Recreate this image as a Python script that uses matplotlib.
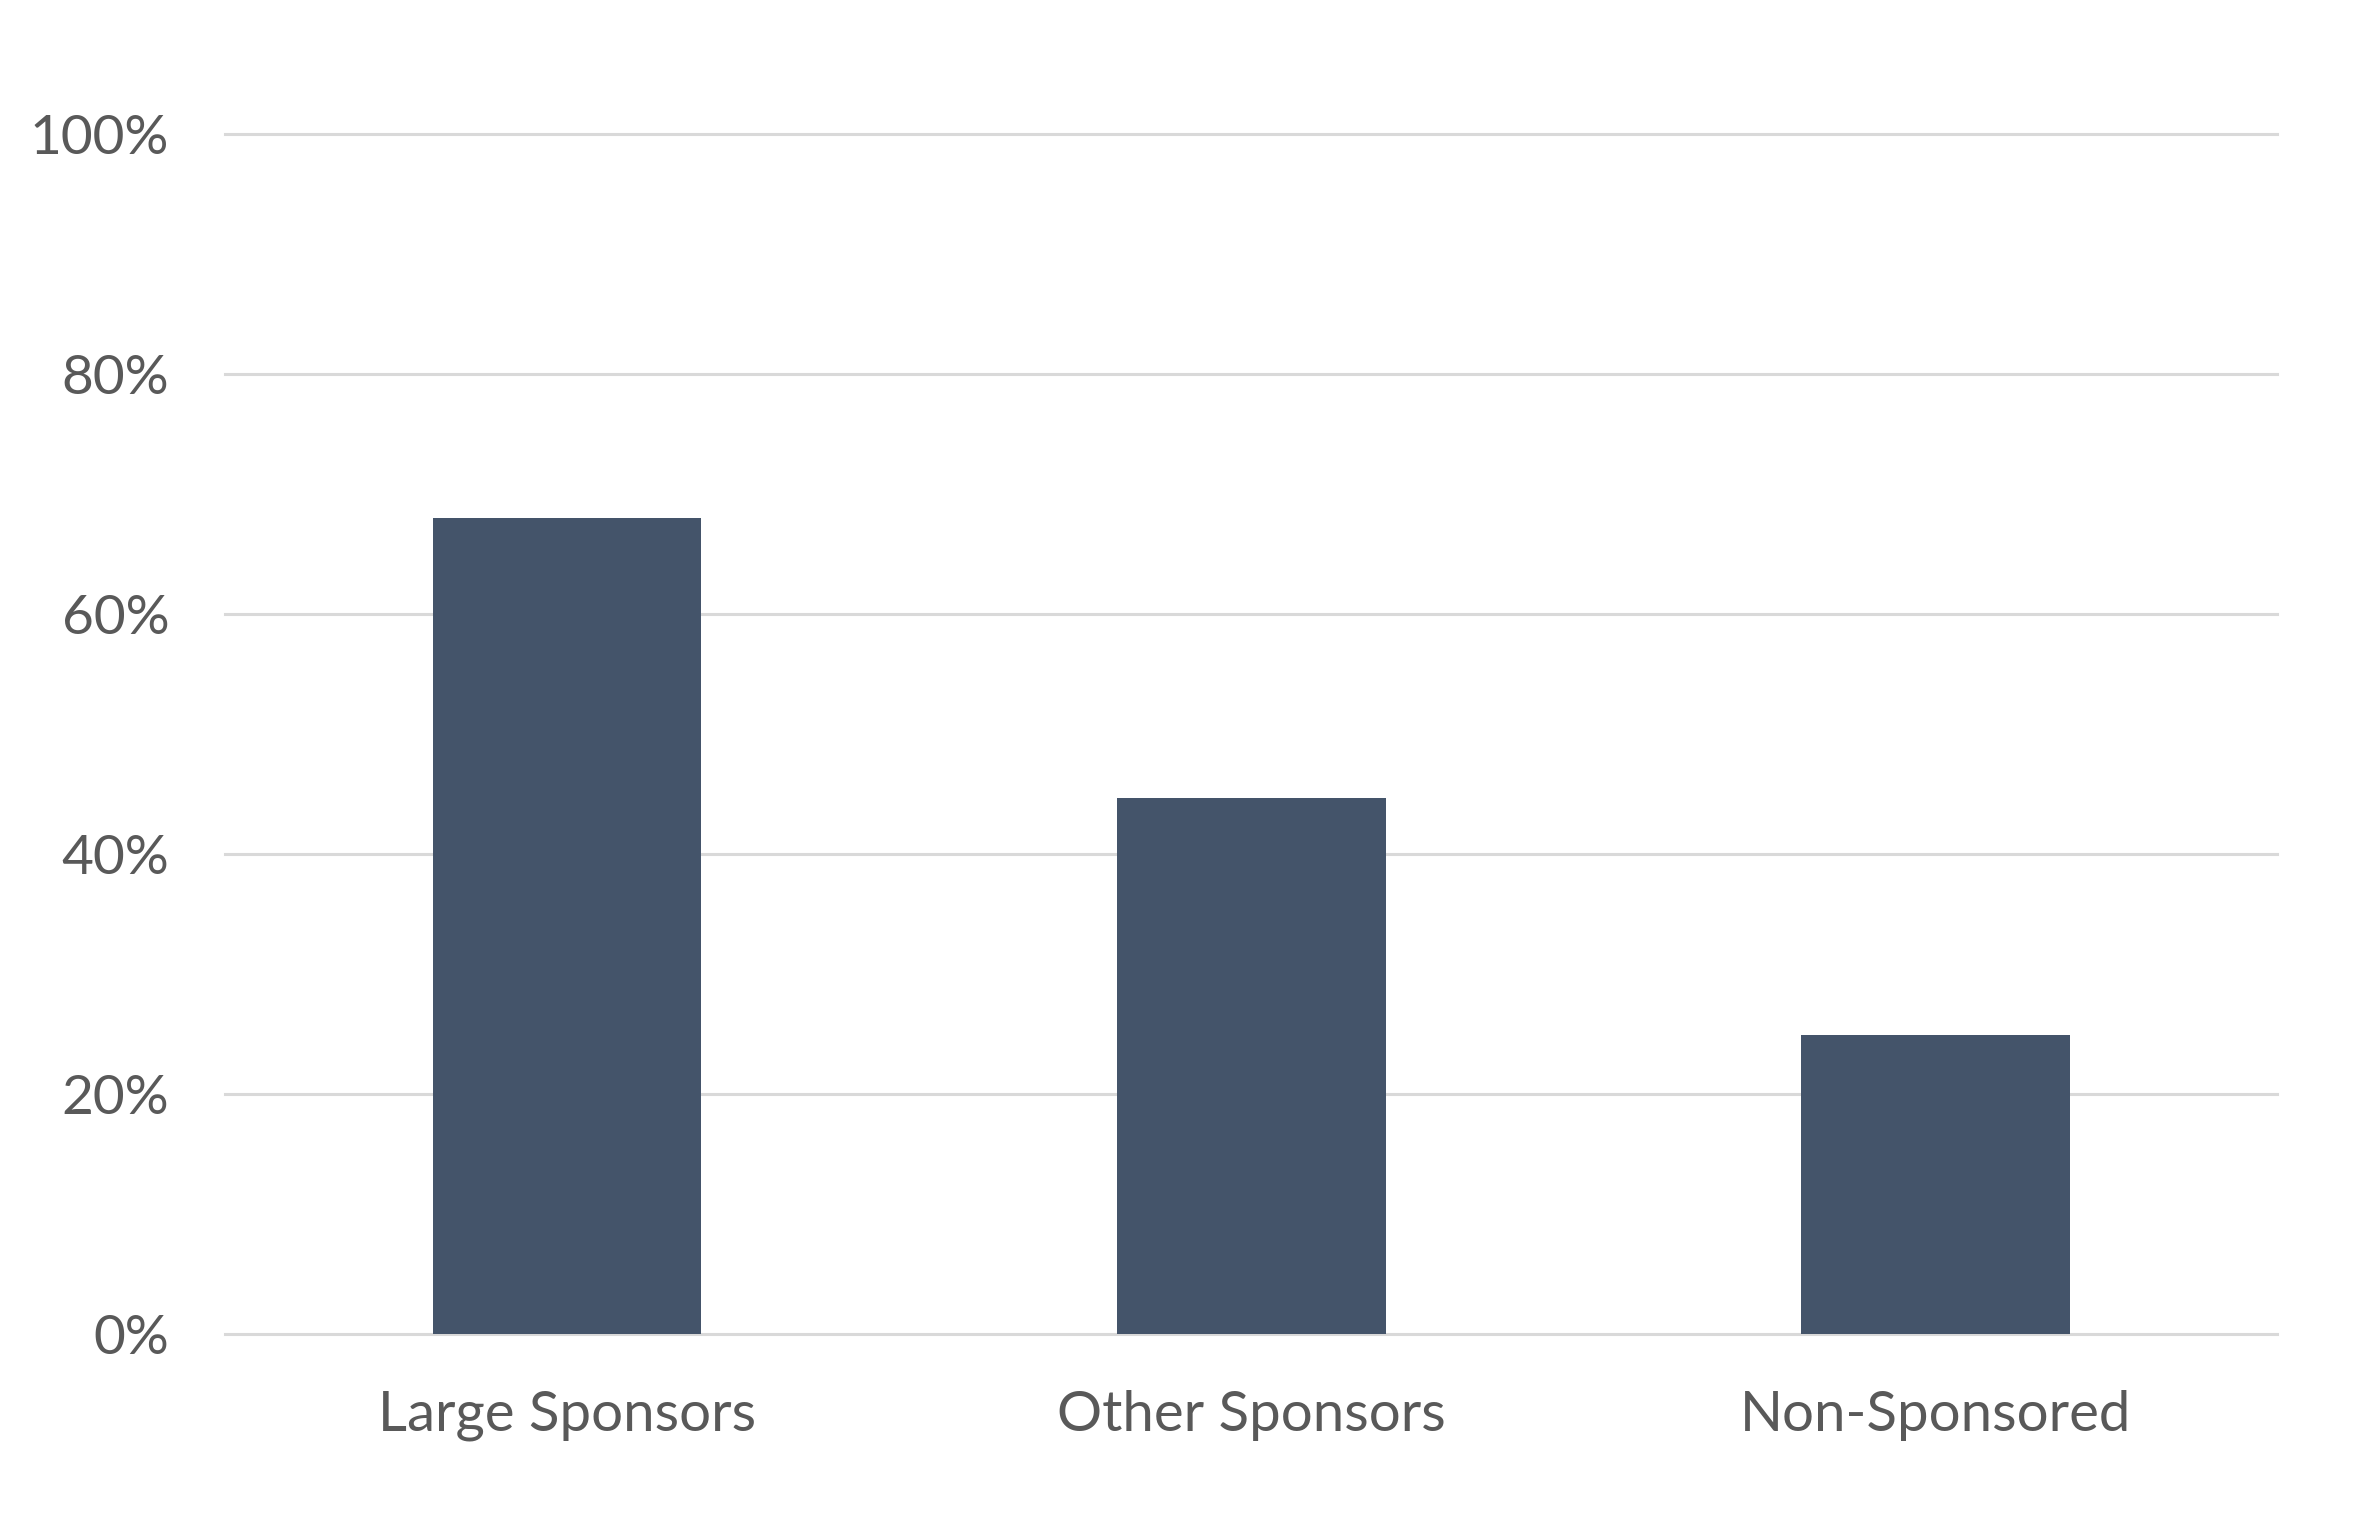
import matplotlib.pyplot as plt
from matplotlib.ticker import PercentFormatter

categories = ['Large Sponsors', 'Other Sponsors', 'Non-Sponsored']
shares = [68.0, 44.7, 24.9]
y_ticks = [0, 20, 40, 60, 80, 100]

plt.rcParams['font.family'] = ['Lato', 'DejaVu Sans']

fig = plt.figure(figsize=(11.775, 7.7), dpi=200)
ax = fig.add_axes([0.0955, 0.1338, 0.8715, 0.7792])

ax.bar(range(len(categories)), shares, width=0.393, color='#44546a', zorder=3)

ax.set_xlim(-0.5, len(categories) - 0.5)
ax.set_ylim(0, 100)
ax.set_yticks(y_ticks)
ax.yaxis.set_major_formatter(PercentFormatter(decimals=0))
ax.set_xticks(range(len(categories)))
ax.set_xticklabels(categories)

ax.grid(axis='y', color='#d9d9d9', linewidth=1.1, zorder=0)
for s in ax.spines.values():
    s.set_visible(False)
ax.tick_params(axis='y', length=0, labelsize=19.8, colors='#595959', pad=20)
ax.tick_params(axis='x', length=0, labelsize=20.3, colors='#595959', pad=20)
for gl in ax.get_ygridlines():
    gl.set_clip_on(False)

fig.savefig('out.png', dpi=200)
